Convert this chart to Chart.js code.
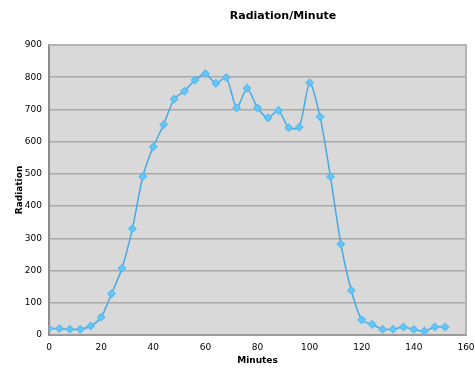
<!DOCTYPE html>
<html>
<head>
<meta charset="utf-8">
<script src="https://cdn.jsdelivr.net/npm/chart.js@4/dist/chart.umd.min.js"></script>
<style>
  html, body { margin: 0; padding: 0; background: #fff; }
  #wrap { width: 475px; height: 369px; }
</style>
</head>
<body>
<div id="wrap"><canvas id="radChart" width="475" height="369"></canvas></div>
<script>
// readings every 4 minutes
const minutes = [0, 4, 8, 12, 16, 20, 24, 28, 32, 36, 40, 44, 48, 52, 56, 60, 64, 68, 72, 76,
  80, 84, 88, 92, 96, 100, 104, 108, 112, 116, 120, 124, 128, 132, 136, 140, 144, 148, 152];
const radiation = [20, 20, 18, 18, 28, 55, 128, 207, 330, 492, 584, 653, 732, 757, 791, 811, 781, 799, 705, 766,
  705, 674, 697, 643, 645, 783, 677, 491, 282, 138, 47, 33, 18, 18, 25, 17, 12, 25, 25];
const xTicks = [0, 20, 40, 60, 80, 100, 120, 140, 160];
const yTicks = [0, 100, 200, 300, 400, 500, 600, 700, 800, 900];

const FONT = "Verdana, 'DejaVu Sans', sans-serif";

// plot background, frame and title
const framePlugin = {
  id: "frame",
  beforeDraw(chart) {
    const { ctx, chartArea: a } = chart;
    ctx.save();
    ctx.fillStyle = "#d9d9d9";
    ctx.fillRect(a.left, a.top, a.right - a.left, a.bottom - a.top);
    ctx.restore();
  },
  afterDraw(chart) {
    const { ctx, chartArea: a } = chart;
    ctx.save();
    ctx.strokeStyle = "#b4b4b4";
    ctx.lineWidth = 2;
    ctx.beginPath();
    ctx.moveTo(a.left, a.top);
    ctx.lineTo(a.right, a.top);
    ctx.lineTo(a.right, a.bottom);
    ctx.stroke();
    ctx.fillStyle = "#000";
    ctx.font = "bold 11px " + FONT;
    ctx.textAlign = "center";
    ctx.textBaseline = "middle";
    ctx.fillText("Radiation/Minute", 283, 16);
    ctx.restore();
  }
};

new Chart(document.getElementById("radChart"), {
  type: "line",
  data: {
    datasets: [{
      label: "Radiation",
      data: minutes.map((m, i) => ({ x: m, y: radiation[i] })),
      borderColor: "#48a9e2",
      borderWidth: 1.5,
      backgroundColor: "#66c8f8",
      pointBackgroundColor: "#66c8f8",
      pointBorderColor: "#5bbdf0",
      pointStyle: "rectRot",
      pointRadius: 3.5,
      tension: 0.25
    }]
  },
  options: {
    responsive: false,
    animation: false,
    layout: { padding: { left: 0, right: 9, top: 45, bottom: 0 } },
    plugins: {
      legend: { display: false },
      title: { display: false },
      tooltip: { enabled: false }
    },
    scales: {
      x: {
        type: "linear",
        min: 0,
        max: 160,
        afterBuildTicks: axis => { axis.ticks = xTicks.map(v => ({ value: v })); },
        afterFit: axis => { axis.height = 34; axis.paddingRight = 0; axis.paddingLeft = 0; },
        grid: { display: false, drawTicks: false },
        border: { color: "#9a9a9a", width: 2 },
        ticks: { color: "#000", font: { family: FONT, size: 9 }, padding: 7, maxRotation: 0 },
        title: { display: true, text: "Minutes", color: "#000", font: { family: FONT, size: 9, weight: "bold" }, padding: { top: 0, bottom: 3 } }
      },
      y: {
        min: 0,
        max: 900,
        afterBuildTicks: axis => { axis.ticks = yTicks.map(v => ({ value: v })); },
        afterFit: axis => { axis.width = 49; axis.paddingTop = 0; axis.paddingBottom = 0; },
        grid: { color: "#a9a9a9", lineWidth: 1.5, drawTicks: false },
        border: { color: "#8c8c8c", width: 2 },
        ticks: { color: "#000", font: { family: FONT, size: 9 }, padding: 7 },
        title: { display: true, text: "Radiation", color: "#000", font: { family: FONT, size: 9, weight: "bold" }, padding: { top: 14, bottom: 0 } }
      }
    }
  },
  plugins: [framePlugin]
});
</script>
</body>
</html>
